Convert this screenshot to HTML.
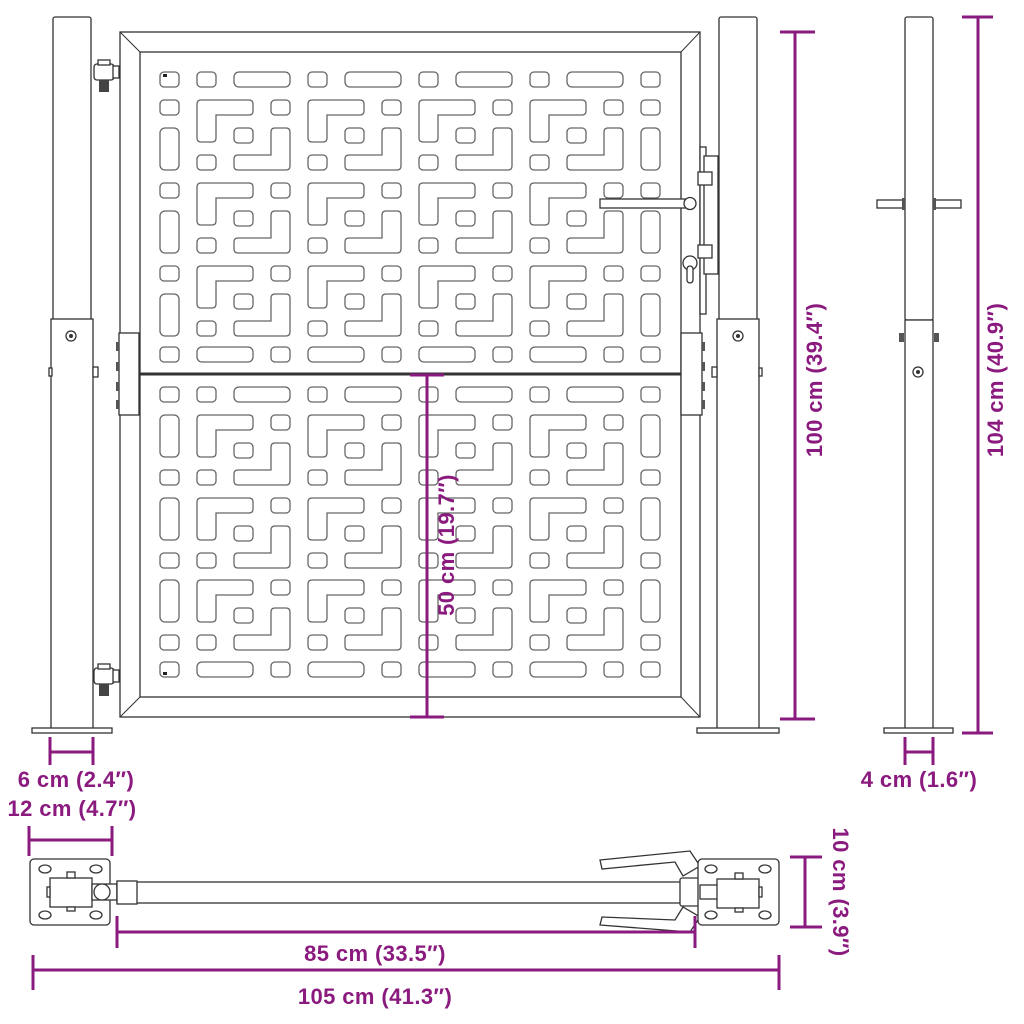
<!DOCTYPE html>
<html><head><meta charset="utf-8"><style>
html,body{margin:0;padding:0;background:#fff}
svg{display:block}
.p{fill:#fff;stroke:#666;stroke-width:1.3}
.l{fill:#fff;stroke:#333;stroke-width:1.3}
.d{stroke:#8b1a7f;stroke-width:3;fill:none}
.t{fill:#8b1a7f;font-family:"Liberation Sans",sans-serif;font-weight:bold;font-size:22px;letter-spacing:0.4px}
</style></head><body>
<svg width="1024" height="1024" viewBox="0 0 1024 1024" xmlns="http://www.w3.org/2000/svg">
<defs>
<g id="blk">
<path class="p" d="M0,4 Q0,0 4,0 H52 Q56,0 56,4 V11 Q56,15 52,15 H19 V38 Q19,42 15,42 H4 Q0,42 0,38 Z"/>
<rect class="p" x="74" y="0" width="19" height="15" rx="4"/>
<rect class="p" x="37" y="28" width="19" height="15" rx="4"/>
<path class="p" d="M78,28 H89 Q93,28 93,32 V66 Q93,70 89,70 H41 Q37,70 37,66 V59 Q37,55 41,55 H74 V32 Q74,28 78,28 Z"/>
<rect class="p" x="0" y="55" width="19" height="15" rx="4"/>
</g>
<g id="colT"><rect class="p" x="0" y="0" width="19" height="15" rx="4"/><rect class="p" x="0" y="28" width="19" height="42" rx="5"/></g>
<g id="colB"><rect class="p" x="0" y="0" width="19" height="42" rx="5"/><rect class="p" x="0" y="55" width="19" height="15" rx="4"/></g>
<g id="rowT"><rect class="p" x="0" y="0" width="19" height="15" rx="4"/><rect class="p" x="37" y="0" width="56" height="15" rx="5"/></g>
<g id="rowB"><rect class="p" x="0" y="0" width="56" height="15" rx="5"/><rect class="p" x="74" y="0" width="19" height="15" rx="4"/></g>
<g id="blkrow"><use href="#blk" x="0"/><use href="#blk" x="111"/><use href="#blk" x="222"/><use href="#blk" x="333"/></g>
</defs>

<rect class="l" x="53" y="17" width="38" height="303" rx="2"/>
<rect class="l" x="51" y="319" width="42" height="410"/>
<rect class="l" x="32" y="728" width="80" height="5"/>
<circle class="l" cx="71" cy="336" r="5"/><circle cx="71" cy="336" r="2" fill="#333"/>
<rect class="l" x="49" y="368" width="3" height="8"/><rect class="l" x="93" y="367" width="5" height="10"/>
<g><rect class="l" x="94" y="64" width="20" height="16" rx="3"/><rect class="l" x="113" y="66" width="6" height="12"/><rect class="l" x="98" y="60" width="12" height="5"/><rect x="99" y="80" width="10" height="12" fill="#444"/></g>
<g><rect class="l" x="94" y="668" width="20" height="16" rx="3"/><rect class="l" x="113" y="670" width="6" height="12"/><rect class="l" x="98" y="664" width="12" height="5"/><rect x="99" y="684" width="10" height="12" fill="#444"/></g>

<rect class="l" x="719" y="17" width="38" height="303" rx="2"/>
<rect class="l" x="717" y="319" width="42" height="410"/>
<rect class="l" x="697" y="728" width="82" height="5"/>
<circle class="l" cx="738" cy="336" r="5"/><circle cx="738" cy="336" r="2" fill="#333"/>
<rect class="l" x="759" y="368" width="3" height="8"/><rect class="l" x="712" y="367" width="5" height="10"/>

<rect class="l" x="120" y="32" width="580" height="685" stroke-width="1.8"/>
<rect class="l" x="140" y="52" width="541" height="645" stroke-width="1.8"/>
<line x1="120" y1="32" x2="140" y2="52" stroke="#333"/><line x1="700" y1="32" x2="681" y2="52" stroke="#333"/>
<line x1="120" y1="717" x2="140" y2="697" stroke="#333"/><line x1="700" y1="717" x2="681" y2="697" stroke="#333"/>
<line x1="140" y1="374" x2="681" y2="374" stroke="#333" stroke-width="3"/>

<use href="#rowT" x="197" y="72"/><use href="#rowT" x="308" y="72"/><use href="#rowT" x="419" y="72"/><use href="#rowT" x="530" y="72"/>
<rect class="p" x="160" y="72" width="19" height="15" rx="4"/><rect class="p" x="641" y="72" width="19" height="15" rx="4"/>
<use href="#blkrow" x="197" y="100"/><use href="#blkrow" x="197" y="183"/><use href="#blkrow" x="197" y="266"/>
<use href="#colT" x="160" y="100"/><use href="#colT" x="160" y="183"/><use href="#colT" x="160" y="266"/>
<use href="#colT" x="641" y="100"/><use href="#colT" x="641" y="183"/><use href="#colT" x="641" y="266"/>
<use href="#rowB" x="197" y="347"/><use href="#rowB" x="308" y="347"/><use href="#rowB" x="419" y="347"/><use href="#rowB" x="530" y="347"/>
<rect class="p" x="160" y="347" width="19" height="15" rx="4"/><rect class="p" x="641" y="347" width="19" height="15" rx="4"/>
<use href="#rowT" x="197" y="387"/><use href="#rowT" x="308" y="387"/><use href="#rowT" x="419" y="387"/><use href="#rowT" x="530" y="387"/>
<rect class="p" x="160" y="387" width="19" height="15" rx="4"/><rect class="p" x="641" y="387" width="19" height="15" rx="4"/>
<use href="#blkrow" x="197" y="415"/><use href="#blkrow" x="197" y="498"/><use href="#blkrow" x="197" y="580"/>
<use href="#colB" x="160" y="415"/><use href="#colB" x="160" y="498"/><use href="#colB" x="160" y="580"/>
<use href="#colB" x="641" y="415"/><use href="#colB" x="641" y="498"/><use href="#colB" x="641" y="580"/>
<use href="#rowB" x="197" y="662"/><use href="#rowB" x="308" y="662"/><use href="#rowB" x="419" y="662"/><use href="#rowB" x="530" y="662"/>
<rect class="p" x="160" y="662" width="19" height="15" rx="4"/><rect class="p" x="641" y="662" width="19" height="15" rx="4"/>
<rect x="163" y="74" width="4" height="3" fill="#222"/><rect x="163" y="672" width="4" height="3" fill="#222"/>

<rect class="l" x="119" y="333" width="20" height="82"/>
<rect class="l" x="681" y="333" width="21" height="82"/>
<rect x="116" y="342" width="3" height="9" fill="#555"/><rect x="116" y="362" width="3" height="9" fill="#555"/><rect x="116" y="382" width="3" height="9" fill="#555"/><rect x="116" y="400" width="3" height="9" fill="#555"/>
<rect x="702" y="342" width="3" height="9" fill="#555"/><rect x="702" y="362" width="3" height="9" fill="#555"/><rect x="702" y="382" width="3" height="9" fill="#555"/><rect x="702" y="400" width="3" height="9" fill="#555"/>
<rect class="l" x="700" y="147" width="6" height="167"/>
<rect class="l" x="704" y="156" width="14" height="118"/>
<rect class="l" x="698" y="172" width="14" height="13"/><rect class="l" x="698" y="245" width="14" height="13"/>
<rect class="l" x="600" y="199" width="90" height="9"/>
<circle class="l" cx="690" cy="203.5" r="6"/>
<circle class="l" cx="690" cy="263" r="7"/><rect class="l" x="687" y="266" width="6" height="17" rx="3"/>

<rect class="l" x="905" y="17" width="28" height="303" rx="2"/>
<rect class="l" x="905" y="320" width="28" height="409"/>
<rect class="l" x="884" y="728" width="69" height="5"/>
<rect class="l" x="877" y="200" width="27" height="8"/><rect class="l" x="934" y="200" width="27" height="8"/>
<rect x="902" y="198" width="3" height="12" fill="#555"/><rect x="933" y="198" width="3" height="12" fill="#555"/>
<rect x="899" y="333" width="5" height="9" fill="#555"/><rect x="934" y="333" width="5" height="9" fill="#555"/>
<circle class="l" cx="918" cy="372" r="5"/><circle cx="918" cy="372" r="2" fill="#333"/>

<rect class="l" x="30" y="859" width="80" height="66" rx="4" stroke="#777"/>
<ellipse class="l" cx="45" cy="869" rx="6" ry="4"/><ellipse class="l" cx="96" cy="869" rx="6" ry="4"/>
<ellipse class="l" cx="45" cy="915" rx="6" ry="4"/><ellipse class="l" cx="96" cy="915" rx="6" ry="4"/>
<rect class="l" x="50" y="878" width="42" height="29"/><rect class="l" x="67" y="872" width="8" height="6"/><rect class="l" x="67" y="907" width="8" height="4"/><rect class="l" x="47" y="887" width="3" height="10"/>
<rect class="l" x="92" y="884" width="25" height="16"/>
<circle class="l" cx="102" cy="892" r="8"/>
<rect class="l" x="117" y="882" width="580" height="21"/>
<rect class="l" x="117" y="881" width="20" height="23"/>
<path class="l" d="M600,860 L690,851 L700,866 L683,876 L675,862 L602,869 Z" stroke="#777"/>
<path class="l" d="M600,925 L690,932 L700,917 L683,907 L675,920 L602,917 Z" stroke="#777"/>
<rect class="l" x="680" y="878" width="20" height="28" rx="2"/>
<rect class="l" x="698" y="859" width="81" height="66" rx="4" stroke="#777"/>
<ellipse class="l" cx="711" cy="869" rx="6" ry="4"/><ellipse class="l" cx="765" cy="869" rx="6" ry="4"/>
<ellipse class="l" cx="711" cy="915" rx="6" ry="4"/><ellipse class="l" cx="765" cy="915" rx="6" ry="4"/>
<rect class="l" x="700" y="885" width="18" height="14"/>
<rect class="l" x="717" y="879" width="42" height="29"/><rect class="l" x="735" y="873" width="8" height="6"/><rect class="l" x="735" y="908" width="8" height="4"/><rect class="l" x="759" y="887" width="3" height="10"/>

<path class="d" d="M780,32H815 M795,32V719 M780,719H815"/>
<text class="t" transform="translate(822,380) rotate(-90)" text-anchor="middle">100 cm (39.4″)</text>
<path class="d" d="M962,17H993 M978,17V733 M962,733H993"/>
<text class="t" transform="translate(1003,380) rotate(-90)" text-anchor="middle">104 cm (40.9″)</text>
<path class="d" d="M410,375H444 M427,375V717 M410,717H444"/>
<text class="t" transform="translate(454,545) rotate(-90)" text-anchor="middle">50 cm (19.7″)</text>
<path class="d" d="M50,737V765 M50,752H93 M93,737V765"/>
<text class="t" x="76" y="787" text-anchor="middle">6 cm (2.4″)</text>
<path class="d" d="M905,737V765 M905,752H933 M933,737V765"/>
<text class="t" x="919" y="787" text-anchor="middle">4 cm (1.6″)</text>
<text class="t" x="72" y="816" text-anchor="middle">12 cm (4.7″)</text>
<path class="d" d="M29,826V856 M29,840H112 M112,826V856"/>
<path class="d" d="M117,916V948 M117,932H695 M695,916V948"/>
<text class="t" x="375" y="961" text-anchor="middle">85 cm (33.5″)</text>
<path class="d" d="M33,955V990 M33,970H779 M779,955V990"/>
<text class="t" x="375" y="1004" text-anchor="middle">105 cm (41.3″)</text>
<path class="d" d="M790,857H822 M805,857V927 M790,927H822"/>
<text class="t" transform="translate(833,892) rotate(90)" text-anchor="middle">10 cm (3.9″)</text>
</svg>
</body></html>
